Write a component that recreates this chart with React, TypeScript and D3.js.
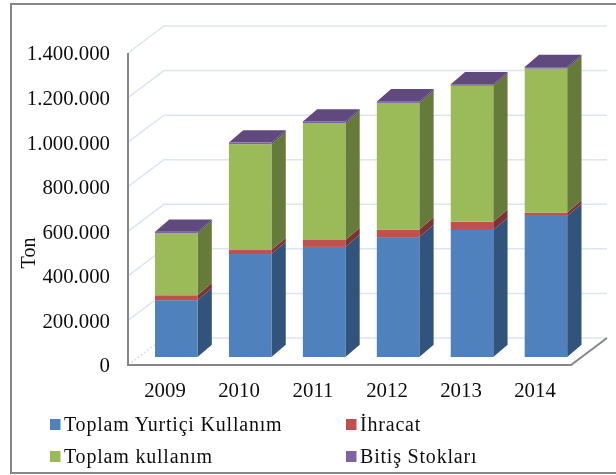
import React from "react";
import * as d3 from "d3";

const years = ["2009", "2010", "2011", "2012", "2013", "2014"];
const seriesNames = ["Toplam Yurtiçi Kullanım", "İhracat", "Toplam kullanım", "Bitiş Stokları"];
const yurtici = [255000, 462000, 494000, 538000, 570000, 633000];
const ihracat = [22000, 18000, 31000, 34000, 37000, 15000];
const kullanim = [278000, 475000, 525000, 568000, 610000, 646000];
const stoklar = [7000, 7000, 7000, 7000, 7000, 7000];
const yTicks = [0, 200000, 400000, 600000, 800000, 1000000, 1200000, 1400000];
const tickLabels = ["0", "200.000", "400.000", "600.000", "800.000", "1.000.000", "1.200.000", "1.400.000"];
const frontColors = ["#4f81bd", "#c0504d", "#9bbb59", "#8064a2"];
const sideColors = ["#30527c", "#7f3230", "#657a3a", "#50406a"];
const topColor = "#604a7b";

const font = "'Liberation Serif', serif";
const rows = years.map((y, i) => ({ y, a: yurtici[i], b: ihracat[i], c: kullanim[i], d: stoklar[i] }));
const stacked = d3.stack<any>().keys(["a", "b", "c", "d"])(rows);

const W = 616, H = 475;
const y0 = 365, yTop = 53, xL = 128, xR = 571;
const depthX = 36, depthY = 27;
const barDx = 14.3, barDy = 12.3, barLift = 8;

const yScale = d3.scaleLinear().domain([0, 1400000]).range([y0, yTop]);
const xBand = d3.scaleBand().domain(years).range([155, 567.2]).paddingInner(0.425).paddingOuter(0);
const labelX = d3.scalePoint().domain(years).range([165, 535]);

const poly = (pts: [number, number][]) => d3.line()(pts)! + "Z";

export default function App() {
  const bw = xBand.bandwidth();
  return (
    <svg width={W} height={H} style={{ position: "absolute", left: 0, top: 0, background: "#fff" }} fontFamily={font}>
      <defs>
        <filter id="soft" x="-5%" y="-5%" width="110%" height="110%">
          <feGaussianBlur stdDeviation="0.4" />
        </filter>
      </defs>
      <g filter="url(#soft)">
        <path d={`M${W},4H11V473H${W}`} fill="none" stroke="#868686" strokeWidth={2} />
        {yTicks.map((t) => {
          const y = yScale(t);
          return t === 0 ? (
            <g key={t}>
              <path d={`M${xL},${y}L${xL + depthX},${y - depthY}`} fill="none" stroke="#d5dfec" strokeWidth={1.5} strokeDasharray="2 2" />
              <path d={`M${xL + depthX},${y - depthY}H${xR + depthX}`} fill="none" stroke="#dce6f2" strokeWidth={1.5} />
            </g>
          ) : (
            <path key={t} d={`M${xL},${y}L${xL + depthX},${y - depthY}H${xR + depthX}`} fill="none" stroke="#dce6f2" strokeWidth={1.5} />
          );
        })}
        <path d={`M${xL},${yTop}V${y0}H${xR}L${xR + depthX},${y0 - depthY}`} fill="none" stroke="#868686" strokeWidth={2} />
        {stacked.map((s, si) =>
          s.map((d, i) => {
            const x = xBand(years[i])!;
            const b = yScale(d[0]) - barLift;
            const t = yScale(d[1]) - barLift;
            return (
              <g key={`${si}-${i}`}>
                <path d={poly([[x + bw, b], [x + bw + barDx, b - barDy], [x + bw + barDx, t - barDy], [x + bw, t]])} fill={sideColors[si]} />
                <rect x={x} y={t} width={bw} height={b - t} fill={frontColors[si]} />
                {si === stacked.length - 1 && (
                  <path d={poly([[x, t], [x + barDx, t - barDy], [x + bw + barDx, t - barDy], [x + bw, t]])} fill={topColor} />
                )}
              </g>
            );
          })
        )}
        {yTicks.map((t, i) => (
          <text key={t} x={110} y={yScale(t)} dy="0.36em" textAnchor="end" fontSize={20.8} fill="#111">
            {tickLabels[i]}
          </text>
        ))}
        {years.map((y) => (
          <text key={y} x={labelX(y)} y={396.5} textAnchor="middle" fontSize={20.8} fill="#111">
            {y}
          </text>
        ))}
        <text transform="translate(35,253) rotate(-90)" textAnchor="middle" fontSize={20} fill="#111">Ton</text>
        {seriesNames.map((n, i) => {
          const lx = i % 2 === 0 ? 50 : 346;
          const ly = i < 2 ? 419 : 451;
          return (
            <g key={n}>
              <rect x={lx} y={ly} width={10.5} height={11} fill={frontColors[i]} />
              <text x={lx + 14} y={ly + 12} fontSize={20} letterSpacing={0.8} fill="#111">{n}</text>
            </g>
          );
        })}
      </g>
    </svg>
  );
}
